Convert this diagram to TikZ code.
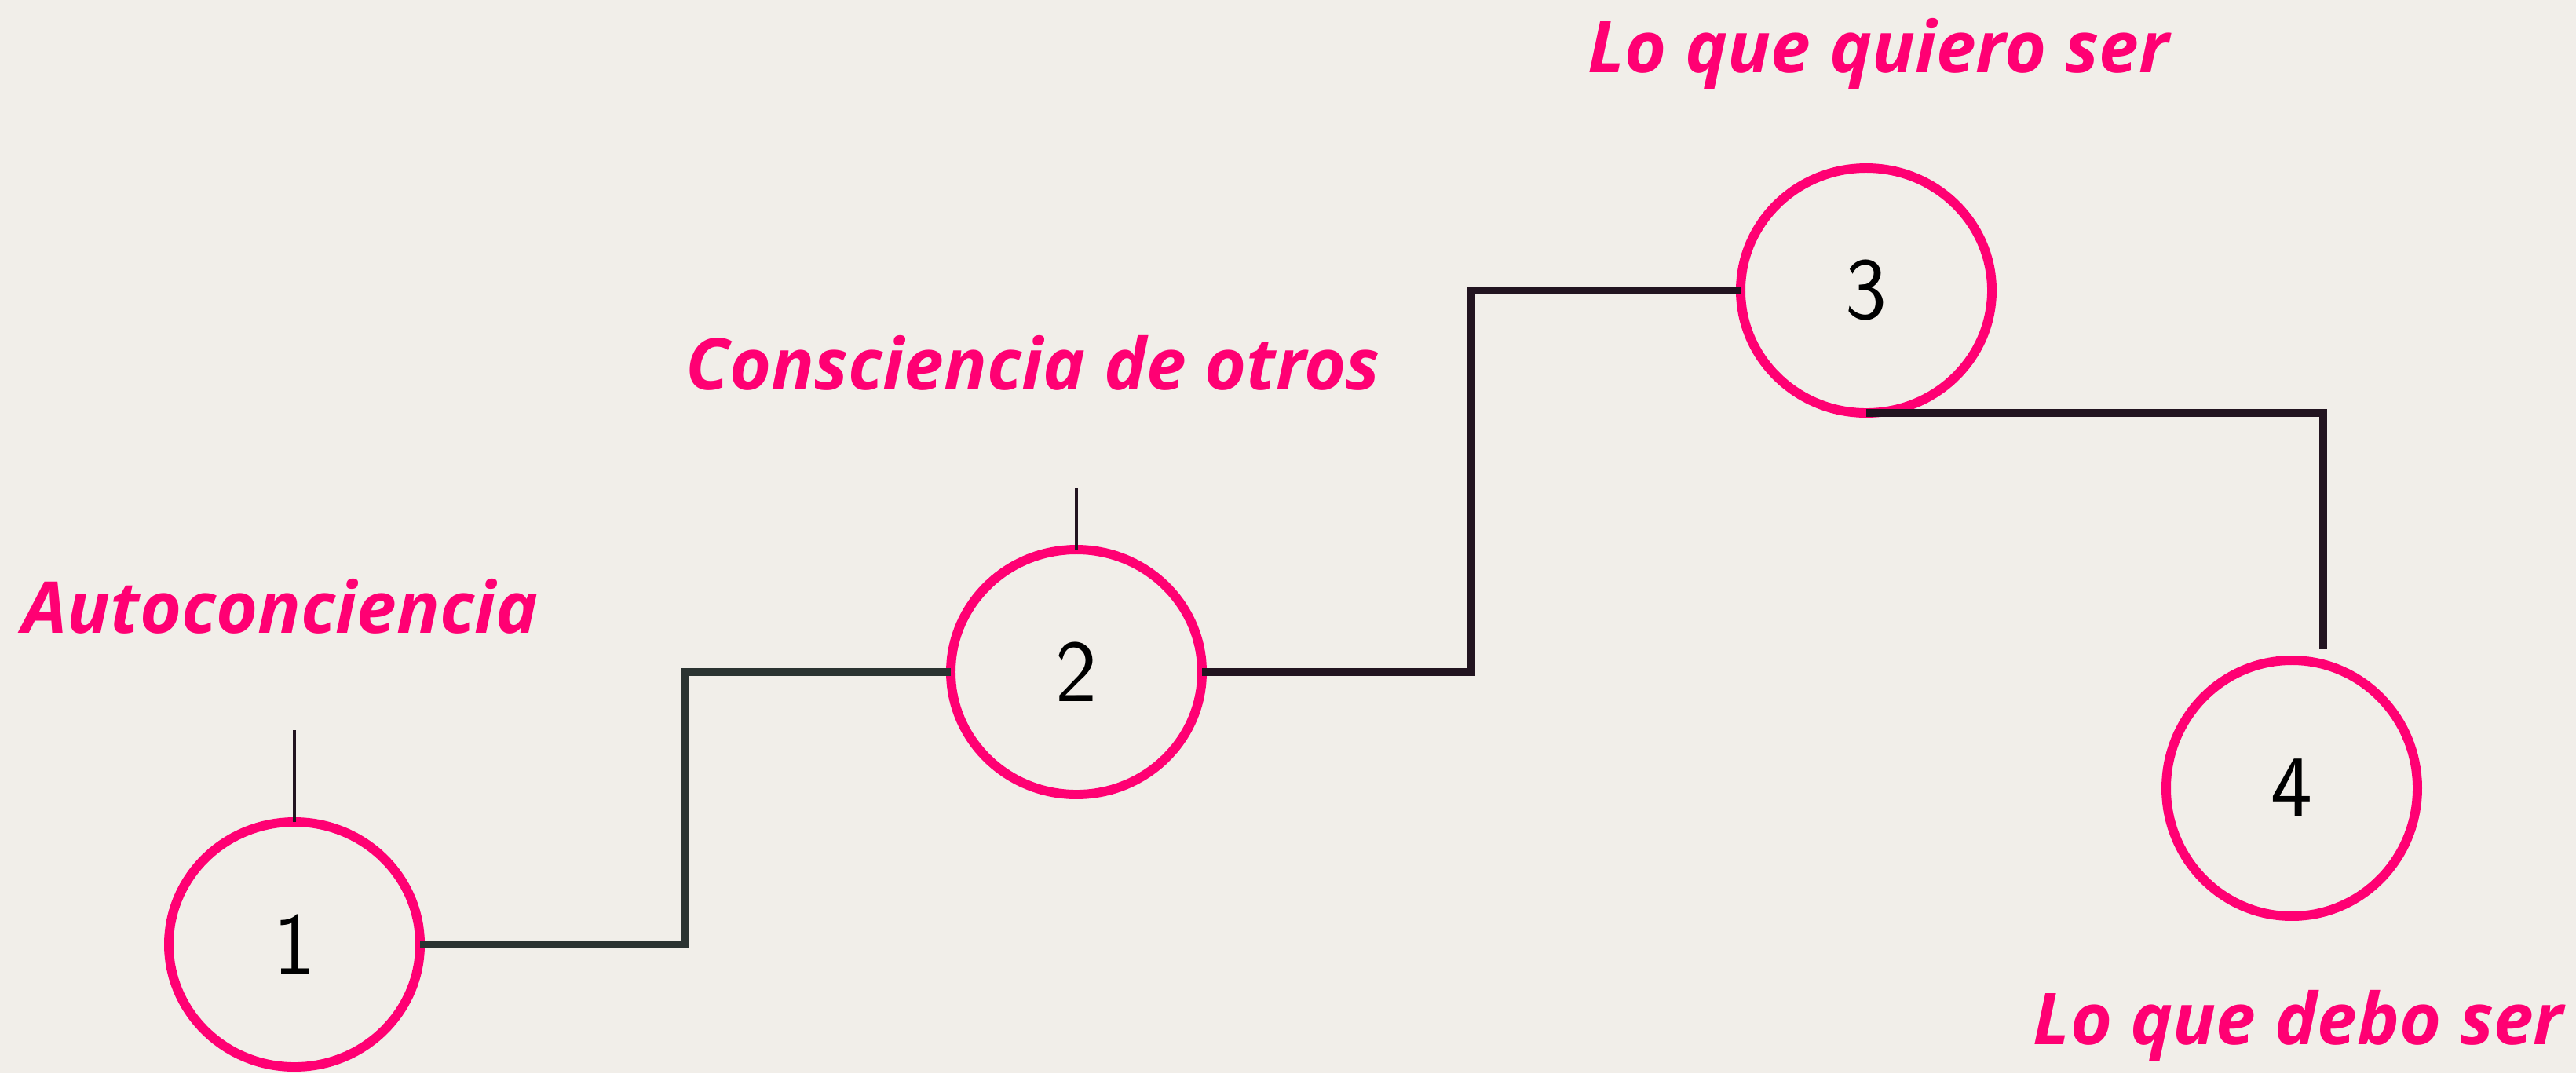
\documentclass[tikz,border=0pt]{standalone}
\usepackage{fontspec}
\setmainfont{Open Sans}
\usetikzlibrary{shapes.geometric,calc}
\definecolor{fondo}{HTML}{F1EEE9}
\definecolor{rosa}{HTML}{FF0073}
\definecolor{gris}{HTML}{2B3331}
\definecolor{morado}{HTML}{221420}

\begin{document}
\begin{tikzpicture}[
        etapa/.style={ellipse,draw=rosa,line width=3.4pt,inner sep=0pt,outer sep=0pt,
            minimum width=3.2cm,minimum height=3.12cm,
            font=\sffamily\fontsize{32}{32}\selectfont},
        titulo/.style={text=rosa,font=\bfseries\itshape\fontsize{25.9}{26}\selectfont,inner sep=0pt},
        tramo/.style={line width=3pt},
        marca/.style={line width=1.1pt,draw=morado}
    ]
        % fondo
        \fill[fondo] (0,0) rectangle (32.81,-13.67);
        \useasboundingbox (0,0) rectangle (32.81,-13.67);

        % etapas
        \node[etapa] (c1) at (3.75,-12.03) {1};
        \node[etapa] (c2) at (13.71,-8.56) {2};
        \node[etapa] (c3) at (23.77,-3.70) {3};
        \node[etapa,minimum height=3.26cm] (c4) at (29.19,-10.04) {4};

        % titulos
        \node[titulo,anchor=base west] (t1) at (0.28,-8.06) {Autoconciencia};
        \node[titulo,anchor=base west] (t2) at (8.73,-4.96) {Consciencia de otros};
        \node[titulo,anchor=base west] (t3) at (20.22,-0.92) {Lo que quiero ser};
        \node[titulo,anchor=base east] (t4) at (32.66,-13.30) {Lo que debo ser};

        % marcas sobre las etapas
        \draw[marca] (c1.north) -- ++(0,1.17);
        \draw[marca] (c2.north) -- ++(0,0.78);

        % escalones
        \coordinate (fin4) at (29.59,-8.27);
        \draw[tramo,draw=gris] (c1.east) -| ($(c1.east)!0.5!(c2.west)$) |- (c2.west);
        \draw[tramo,draw=morado] (c2.east) -| ($(c2.east)!0.5!(c3.west)$) |- (c3.west);
        \draw[tramo,draw=morado] (c3.south) -| (fin4);
\end{tikzpicture}
\end{document}
